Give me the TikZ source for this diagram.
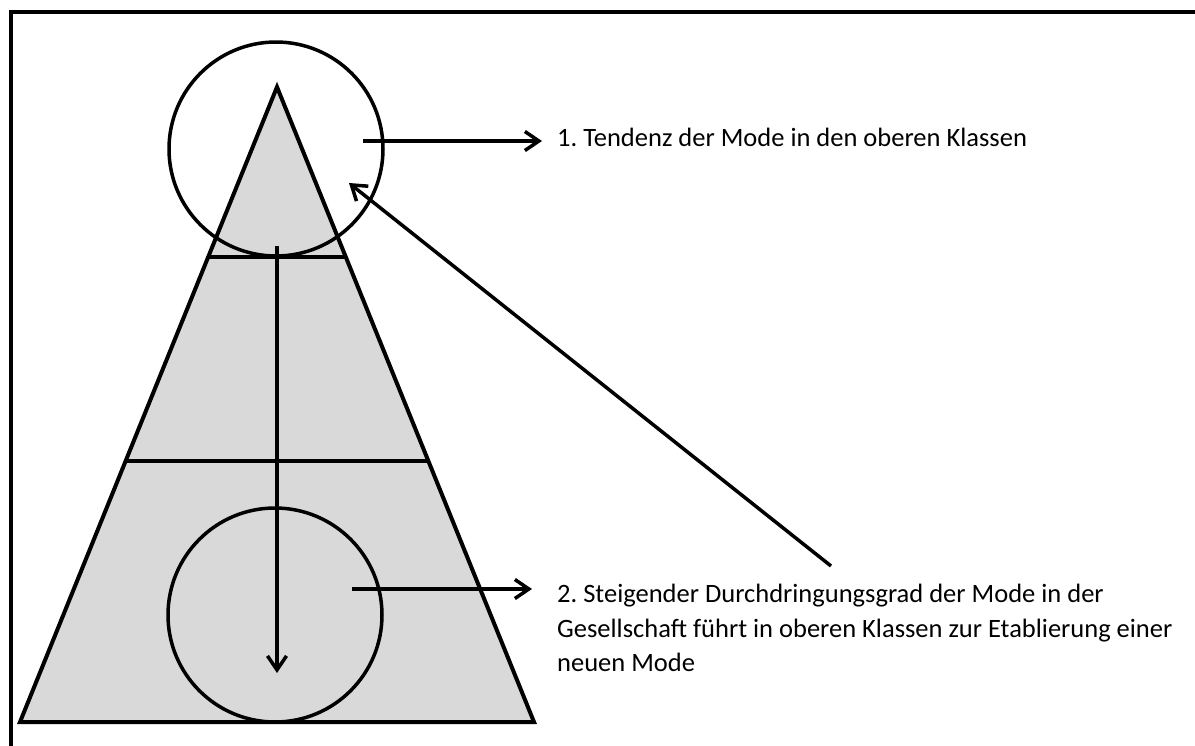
\documentclass[tikz,border=0pt]{standalone}
\usepackage{fontspec}
\setmainfont{Carlito}
\usetikzlibrary{arrows.meta}
\frenchspacing

\definecolor{pyrgrey}{HTML}{D9D9D9}
\tikzset{
  outline/.style={line width=4pt, line join=miter},
  pointer/.style={line width=3.5pt, -{Straight Barb[length=14pt, width=19pt, line width=3.5pt]}},
  ring/.style={circle, draw, line width=3.5pt, inner sep=0pt, minimum size=214pt},
  caption/.style={anchor=west, inner sep=0pt, align=left, font=\fontsize{26.5}{34.5}\selectfont}
}

\begin{document}
\begin{tikzpicture}[x=1pt,y=-1pt]
    \useasboundingbox (0,0) rectangle (1195,745);
    % frame, cut off at the right and bottom
    \begin{scope}
      \clip (0,0) rectangle (1195,745);
      \draw[line width=4pt] (11,12) rectangle (1230,780);
    \end{scope}
    % pyramid of classes
    \coordinate (apex) at (277,87);
    \coordinate (baseL) at (20,722);
    \coordinate (baseR) at (534,722);
    \filldraw[outline, fill=pyrgrey] (apex) -- (baseR) -- (baseL) -- cycle;
    \draw[outline] (208,257) -- (346,257);
    \draw[outline] (126,461) -- (428,461);
    % circles
    \node[ring] (topring) at (276,149) {};
    \node[ring] (lowring) at (275,615) {};
    % labels
    \node[caption] (tendenz) at (557,137) {1. Tendenz der Mode in den oberen Klassen};
    \node[caption, anchor=north west] (steigend) at (557,584)
      {2. Steigender Durchdringungsgrad der Mode in der\\
       Gesellschaft führt in oberen Klassen zur Etablierung einer\\
       neuen Mode};
    % arrows
    \coordinate (downstart) at (277,246);
    \coordinate (downend) at (277,673);
    \coordinate (topstart) at (363,141);
    \coordinate (topend) at (542,141);
    \coordinate (lowstart) at (352,589);
    \coordinate (lowend) at (532,589);
    \coordinate (backstart) at (831,566);
    \coordinate (backend) at (349,183);
    \draw[pointer] (downstart) -- (downend);
    \draw[pointer] (topstart) -- (topend);
    \draw[pointer] (lowstart) -- (lowend);
    \draw[pointer] (backstart) -- (backend);
\end{tikzpicture}
\end{document}
